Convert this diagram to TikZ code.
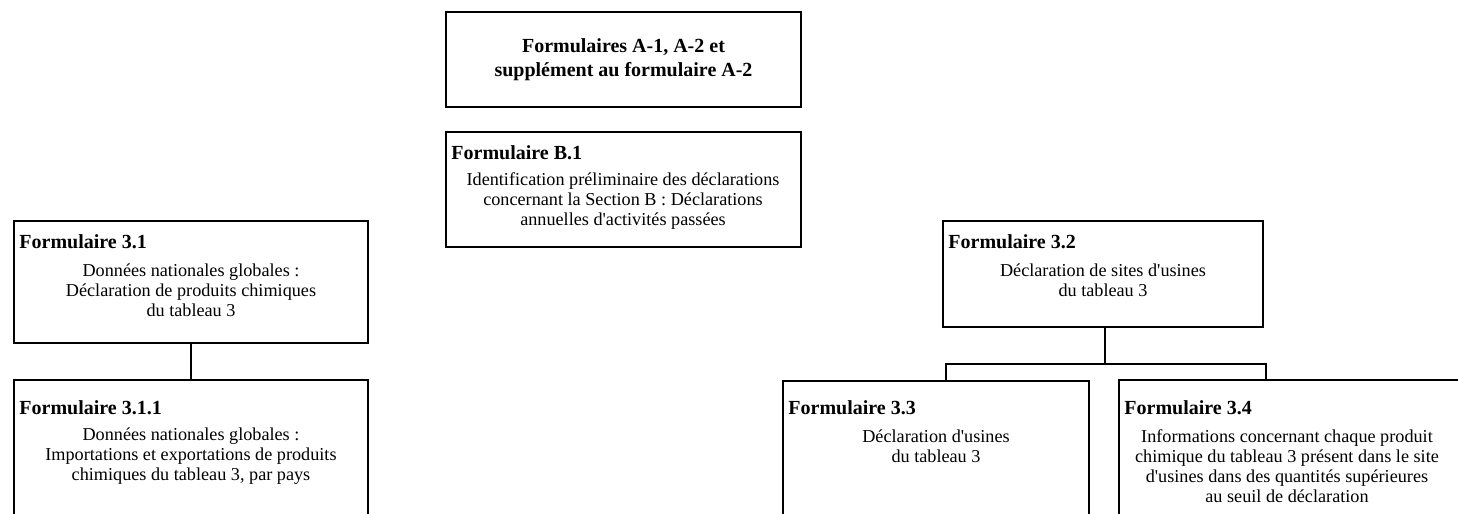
\documentclass[tikz,border=0pt]{standalone}
\usepackage{fontspec}
\setmainfont{Liberation Serif}
\usetikzlibrary{positioning, fit}

\tikzset{
  formbox/.style={draw, line width=1pt, inner sep=0pt},
  formtitle/.style={anchor=west, inner sep=0pt, font=\bfseries},
  formtext/.style={align=center, inner sep=0pt},
  link/.style={line width=1pt}
}
\newcommand{\apos}{\textquotesingle}

\begin{document}
\begin{tikzpicture}[x=0.5pt, y=-0.5pt, font=\fontsize{9.1}{10}\selectfont]
  \clip (0,0) rectangle (1458,514);

  % Forms A
  \node[formbox, fit={(446,12) (801,107)}] (fa) {};
  \node[formtext, font=\bfseries] (ta) at (fa.center) {Formulaires A-1, A-2 et\\supplément au formulaire A-2};

  % Form B.1
  \node[formbox, fit={(446,132) (801,247)}] (fb1) {};
  \node[formtitle] (hb1) at (451,153) {Formulaire B.1};
  \node[formtext] (tb1) at (623,201) {Identification préliminaire des déclarations\\concernant la Section B : Déclarations\\annuelles d\apos activités passées};

  % Form 3.1 and 3.1.1
  \node[formbox, fit={(14,221) (368,343)}] (f31) {};
  \node[formtitle] (h31) at (19,242) {Formulaire 3.1};
  \node[formtext] (t31) at (191,290) {Données nationales globales :\\Déclaration de produits chimiques\\du tableau 3};

  \node[formbox, fit={(14,380) (368,530)}] (f311) {};
  \node[formtitle] (h311) at (19,408) {Formulaire 3.1.1};
  \node[formtext] (t311) at (191,456) {Données nationales globales :\\Importations et exportations de produits\\chimiques du tableau 3, par pays};

  % Form 3.2, 3.3 and 3.4
  \node[formbox, fit={(943,221) (1263,327)}] (f32) {};
  \node[formtitle] (h32) at (948,242) {Formulaire 3.2};
  \node[formtext] (t32) at (1103,280) {Déclaration de sites d\apos usines\\du tableau 3};

  \node[formbox, fit={(783,381) (1089,530)}] (f33) {};
  \node[formtitle] (h33) at (788,408) {Formulaire 3.3};
  \node[formtext] (t33) at (936,446) {Déclaration d\apos usines\\du tableau 3};

  \node[formbox, fit={(1119,380) (1464,530)}] (f34) {};
  \node[formtitle] (h34) at (1124,408) {Formulaire 3.4};
  \node[formtext] (t34) at (1287,466) {Informations concernant chaque produit\\chimique du tableau 3 présent dans le site\\d\apos usines dans des quantités supérieures\\au seuil de déclaration};

  % links
  \draw[link] (f31.south) -- (f311.north);
  \coordinate (hub) at (1105,364);
  \coordinate (j33) at (946,381);
  \coordinate (j34) at (1266,380);
  \draw[link] (f32.south -| hub) -- (hub);
  \draw[link] (j33) |- (hub) -| (j34);
\end{tikzpicture}
\end{document}
